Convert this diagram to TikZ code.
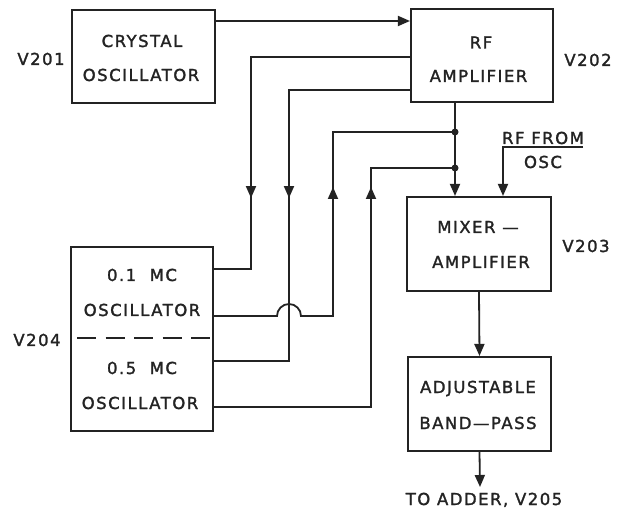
\documentclass[tikz,border=0pt]{standalone}
\usepackage{fontspec}
\newfontfamily\lbl[LetterSpace=9,FakeBold=1.6]{DejaVu Sans}
\usetikzlibrary{arrows.meta,decorations.markings}
\definecolor{ink}{RGB}{35,35,35}
\begin{document}
\begin{tikzpicture}[x=1pt,y=-1pt,
  box/.style={draw=ink, line width=2.1pt, inner sep=0pt},
  wire/.style={draw=ink, line width=1.8pt},
  tip/.style={-{Triangle[length=12pt,width=10pt]}},
  lab/.style={font=\lbl\fontsize{16.5}{20}\selectfont, text=ink, anchor=base, inner sep=0pt},
  dot/.style={circle, fill=ink, inner sep=0pt, minimum size=7pt},
  midarr/.style={postaction={decorate}, decoration={markings, mark=at position #1 with {\arrow{Triangle[length=12pt,width=10pt]}}}},
  midrev/.style={postaction={decorate}, decoration={markings, mark=at position #1 with {\arrowreversed{Triangle[length=12pt,width=10pt]}}}},
]
\useasboundingbox (0,0) rectangle (629,510);
\fill[white] (0,0) rectangle (629,510);

% boxes
\node[box, minimum width=143pt, minimum height=93pt] (cry) at (143.5,56.5) {};
\node[box, minimum width=142pt, minimum height=93pt] (rfa) at (482,55.5) {};
\node[box, minimum width=144pt, minimum height=94pt] (mix) at (479,244) {};
\node[box, minimum width=143pt, minimum height=94pt] (bpf) at (479.5,404) {};
\node[box, minimum width=142pt, minimum height=184pt] (osc) at (142,339) {};

% labels
\node[lab] (v201) at (41,65) {V201};
\node[lab] (t1) at (142,47) {CRYSTAL};
\node[lab] (t2) at (141,81) {OSCILLATOR};
\node[lab] (t3) at (481,48.5) {RF};
\node[lab] (t4) at (478.5,82) {AMPLIFIER};
\node[lab] (v202) at (588,66) {V202};
\node[lab] (t5) at (543,144) {RF FROM};
\node[lab] (t6) at (543,168) {OSC};
\node[lab] (t7) at (478,233) {MIXER —};
\node[lab] (t8) at (481,268) {AMPLIFIER};
\node[lab] (v203) at (586,252) {V203};
\node[lab] (t9) at (478,393) {ADJUSTABLE};
\node[lab] (t10) at (478,429) {BAND—PASS};
\node[lab] (t11) at (484,505) {TO ADDER, V205};
\node[lab] (t12) at (142,281) {0.1~~MC};
\node[lab] (t13) at (142,316) {OSCILLATOR};
\node[lab] (t14) at (142,374) {0.5~~MC};
\node[lab] (t15) at (140,409) {OSCILLATOR};
\node[lab] (v204) at (37,346) {V204};

% divider in V204 box
\draw[wire, dash pattern=on 19pt off 9.5pt] (77,338) -- (210,338);

% junction dots
\node[dot] (d1) at (455,132) {};
\node[dot] (d2) at (455,168) {};

% connectors
\draw[wire,tip] (cry.east |- 0,21) -- (rfa.west |- 0,21);
\draw[wire,midarr=300pt] (rfa.west |- 0,57) -| (251,269) -- (osc.east |- 0,269);
\draw[wire,midarr=229pt] (rfa.west |- 0,90) -| (289,361) -- (osc.east |- 0,361);
\draw[wire,midrev=177pt] (d1.center) -- (333,132) -- (333,316) -- (301,316)
   arc[start angle=0, end angle=180, radius=12pt] -- (osc.east |- 0,316);
\draw[wire,midrev=103pt] (d2.center) -- (371,168) -- (371,407) -- (osc.east |- 0,407);
\draw[wire,tip] (rfa.south -| 455,0) -- (mix.north -| 455,0);
\coordinate (rfosc) at (583,147);
\draw[wire,tip] (rfosc) -- (503,147) -- (mix.north -| 503,0);
\draw[wire,tip] (mix.south) -- (bpf.north);
\coordinate (out) at (480,487);
\draw[wire,tip] (bpf.south) -- (out);
\end{tikzpicture}
\end{document}
